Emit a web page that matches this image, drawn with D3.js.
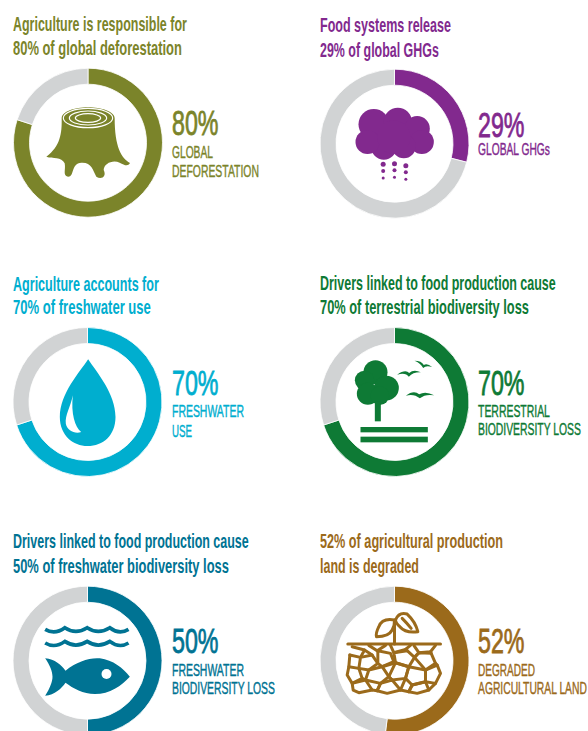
<!DOCTYPE html>
<html>
<head>
<meta charset="utf-8">
<script src="https://cdn.jsdelivr.net/npm/d3@7/dist/d3.min.js"></script>
<style>
  html, body { margin: 0; padding: 0; background: #fff; }
  svg { display: block; }
  text { font-family: "Liberation Sans Narrow", "Liberation Sans", sans-serif; }
</style>
</head>
<body>
<svg id="chart" width="588" height="731"></svg>
<script>
// Indicators
const shares = [80, 29, 70, 70, 50, 52];
const shareLabels = ["80%", "29%", "70%", "70%", "50%", "52%"];
const headlines = [
  ["Agriculture is responsible for", "80% of global deforestation"],
  ["Food systems release", "29% of global GHGs"],
  ["Agriculture accounts for", "70% of freshwater use"],
  ["Drivers linked to food production cause", "70% of terrestrial biodiversity loss"],
  ["Drivers linked to food production cause", "50% of freshwater biodiversity loss"],
  ["52% of agricultural production", "land is degraded"]
];
const captions = [
  ["GLOBAL", "DEFORESTATION"],
  ["GLOBAL GHGs"],
  ["FRESHWATER", "USE"],
  ["TERRESTRIAL", "BIODIVERSITY LOSS"],
  ["FRESHWATER", "BIODIVERSITY LOSS"],
  ["DEGRADED", "AGRICULTURAL LAND"]
];

// Palette
const accents = ["#7b842a", "#82298e", "#00aecf", "#0e7a35", "#007393", "#9b6a1b"];
const remainderColor = "#d1d3d4";

// Layout of the six panels
const ringX = [88, 394.5, 87.5, 394.5, 87.5, 394.5];
const ringY = [142.7, 143.7, 402, 402, 660.7, 660.7];
const outerRadius = 74.5;
const innerRadius = 58.5;
const textLeft = [13, 320, 13, 320, 13, 320];
const figureLeft = [172, 478, 172, 478, 172, 478];
const headlineBase = [[31, 55], [32, 57], [291, 314], [290, 314], [548, 573], [548, 573]];
const headlineWidth = [[174, 169], [131, 119], [146, 138], [236, 209], [236, 216], [183, 99]];
const figureBase = [135, 137, 395, 395, 653, 653];
const figureWidth = 46.5;
const captionBase = [[157.7, 176.7], [155], [416.7, 436.7], [416.7, 435], [675.7, 694], [675.7, 694]];
const captionWidth = [[41, 87], [72], [72, 20], [72, 103], [72, 103], [57, 109]];

// Pictograms, drawn in a 3x grid and scaled down around each ring's centre
const iconOrigin = [[265, 428], [302, 430], [263, 425], [302, 427], [263, 422], [302, 422]];

const icons = [
  g => { // tree stump
    const c = accents[0];
    g.append("path").attr("fill", c).attr("d",
      "M186,355 C187,400 182,440 140,470 C160,478 185,468 195,490 C199,510 188,526 205,530 " +
      "C225,531 213,490 245,488 C275,486 280,510 290,530 C305,540 322,530 312,510 " +
      "C313,490 340,478 360,488 C375,496 385,500 391,489 C365,475 345,440 345,355 " +
      "C345,335 305,322 265,322 C225,322 186,335 186,355Z");
    [[74, 29], [56, 21], [38, 13]].forEach(([rx, ry]) =>
      g.append("ellipse").attr("cx", 265).attr("cy", 354).attr("rx", rx).attr("ry", ry)
        .attr("fill", "none").attr("stroke", "#fff").attr("stroke-width", 3.5));
  },
  g => { // rain cloud
    const c = accents[1];
    [[240, 372, 46], [312, 364, 42], [370, 385, 38], [384, 425, 36], [330, 438, 36], [270, 440, 38], [221, 425, 36], [300, 410, 50]]
      .forEach(([x, y, r]) => g.append("circle").attr("cx", x).attr("cy", y).attr("r", r).attr("fill", c));
    [268, 302, 336].forEach((x, i) =>
      [[492, 7.5], [512, 6], [533, 4.5]].forEach(([y, r]) =>
        g.append("circle").attr("cx", x).attr("cy", y + (i === 1 ? -2 : i === 2 ? 4 : 0)).attr("r", r).attr("fill", c)));
  },
  g => { // water drop
    g.append("path").attr("fill", accents[2]).attr("d",
      "M265,297 C240,335 180,400 180,470 C180,525 220,557 263,557 C310,557 347,525 347,470 C347,400 290,335 265,297Z");
    g.append("path").attr("fill", "#fff").attr("d",
      "M219,405 C212,440 195,465 198,490 C202,510 225,522 244,515 C225,500 213,460 219,405Z");
  },
  g => { // tree, birds and ground
    const c = accents[3];
    [[245, 338, 36], [212, 362, 29], [222, 402, 33], [278, 385, 37], [258, 408, 28]]
      .forEach(([x, y, r]) => g.append("circle").attr("cx", x).attr("cy", y).attr("r", r).attr("fill", c));
    g.append("rect").attr("x", 243).attr("y", 425).attr("width", 18).attr("height", 60).attr("fill", c);
    [[502, 16], [531, 17]].forEach(([y, h]) =>
      g.append("rect").attr("x", 200).attr("y", y).attr("width", 202).attr("height", h).attr("fill", c));
    ["M362,303 Q383,303 390,316 Q400,310 415,322 Q396,317 388,325 Q380,310 362,303Z",
     "M310,345 Q335,328 346,340 Q360,328 381,338 Q358,337 345,351 Q335,337 310,345Z",
     "M336,408 Q360,390 376,404 Q395,393 421,407 Q395,402 378,416 Q360,401 336,408Z"]
      .forEach(d => g.append("path").attr("fill", c).attr("d", d));
  },
  g => { // waves and fish
    const c = accents[4];
    [0, 41].forEach(dy =>
      g.append("path").attr("fill", "none").attr("stroke", c).attr("stroke-width", 11)
        .attr("transform", `translate(0,${dy})`)
        .attr("d", "M136,328 Q165,345 195,323 Q228,345 262,323 Q295,345 330,323 Q358,345 386,328"));
    g.append("path").attr("fill", c).attr("d",
      "M136,415 C165,418 185,435 197,452 C230,425 270,412 300,415 C340,420 370,445 390,470 " +
      "C365,497 330,522 285,522 C250,522 220,505 197,488 C185,505 165,525 136,527 " +
      "C150,505 158,485 158,470 C158,455 150,435 136,415Z");
    g.append("circle").attr("cx", 320).attr("cy", 462).attr("r", 15).attr("fill", "#fff");
  },
  g => { // seedling over cracked soil
    const lines = g.append("g").attr("fill", "none").attr("stroke", accents[5])
      .attr("stroke-width", 9).attr("stroke-linejoin", "round").attr("stroke-linecap", "round");
    ["M162,372 H440", "M302,372 V300",
     "M302,300 Q265,293 255,320 Q245,340 248,350 Q285,350 295,330 Q303,315 302,300Z",
     "M305,300 Q315,275 340,282 Q365,305 372,335 Q335,340 318,320 Q305,308 305,300Z",
     "M325,295 Q340,310 352,325",
     "M175,380 L212,390 L200,412 L168,405", "M225,376 L250,392 L275,376",
     "M290,376 L300,398 L335,388 L350,376", "M360,376 L375,398 L410,395 L425,376",
     "M200,412 L235,405 L252,430 L225,450 L195,445Z",
     "M252,392 L290,400 L300,425 L265,440 L252,430Z",
     "M300,398 L340,392 L362,412 L345,440 L305,428Z",
     "M375,398 L412,400 L425,430 L395,450 L362,412Z",
     "M165,440 L195,445 L205,475 L175,490 L160,465Z",
     "M225,450 L265,440 L285,470 L260,490 L215,480Z",
     "M305,428 L345,440 L335,475 L295,480 L285,470Z",
     "M345,440 L395,450 L395,485 L355,495 L335,475Z",
     "M395,450 L430,435 L440,460 L425,490 L395,485Z",
     "M175,490 L215,480 L235,510 L195,518 L178,510Z",
     "M260,490 L295,480 L320,510 L280,520 L250,512Z",
     "M355,495 L395,485 L405,510 L370,520 L345,515Z",
     // connecting cracks between the cells
     "M168,405 L165,440", "M212,390 L235,405", "M250,392 L252,392", "M335,388 L340,392",
     "M362,412 L375,398", "M410,395 L412,400", "M265,440 L305,428", "M205,475 L215,480",
     "M285,470 L295,480", "M235,510 L250,512", "M320,510 L345,515", "M335,475 L320,510",
     "M405,510 L425,490", "M425,430 L430,435", "M355,495 L345,515", "M260,490 L250,512"]
      .forEach(d => lines.append("path").attr("d", d));
  }
];

const svg = d3.select("#chart");
const pie = d3.pie().sort(null).startAngle(0).endAngle(2 * Math.PI);
const arc = d3.arc().innerRadius(innerRadius).outerRadius(outerRadius);

// Condensed text: places the string on its baseline and squeezes it to a set width
function fitted(parent, str, x, y, width, size, weight, color, outline) {
  const t = parent.append("text")
    .attr("font-size", size).attr("font-weight", weight).attr("fill", color)
    .attr("stroke", outline ? color : "none").attr("stroke-width", outline || 0)
    .text(str);
  const natural = t.node().getComputedTextLength();
  t.attr("transform", `translate(${x},${y}) scale(${width / natural},1)`);
}

shares.forEach((share, i) => {
  const panel = svg.append("g");

  // Ring: the share in the accent colour, the remainder in grey
  panel.append("g")
    .attr("transform", `translate(${ringX[i]},${ringY[i]})`)
    .selectAll("path")
    .data(pie([share, 100 - share]))
    .join("path")
    .attr("d", arc)
    .attr("fill", (d, j) => j === 0 ? accents[i] : remainderColor)
    .attr("stroke", "#fff")
    .attr("stroke-width", 0.8);

  // Pictogram
  const icon = panel.append("g")
    .attr("transform", `translate(${ringX[i]},${ringY[i]}) scale(${1 / 3}) translate(${-iconOrigin[i][0]},${-iconOrigin[i][1]})`);
  icons[i](icon);

  // Two-line headline
  headlines[i].forEach((line, k) =>
    fitted(panel, line, textLeft[i], headlineBase[i][k], headlineWidth[i][k], 20, 700, accents[i], 0));

  // Large figure
  fitted(panel, shareLabels[i], figureLeft[i], figureBase[i], figureWidth, 35, 400, accents[i], 0.8);

  // Caption under the figure
  captions[i].forEach((line, k) =>
    fitted(panel, line, figureLeft[i], captionBase[i][k], captionWidth[i][k], 16.5, 400, accents[i], 0.4));
});
</script>
</body>
</html>
